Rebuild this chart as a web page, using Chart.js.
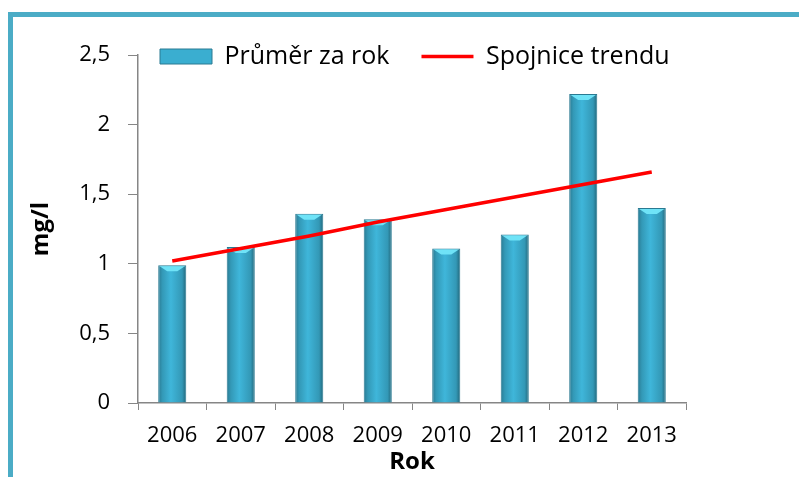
<!DOCTYPE html>
<html>
<head>
<meta charset="utf-8">
<script src="https://cdn.jsdelivr.net/npm/chart.js@4"></script>
<style>
    body { margin: 0; background: #fff; overflow: hidden; }
    #wrap { position: relative; width: 799px; height: 477px; }
    #frame {
        position: absolute; left: 8px; top: 12px; width: 820px; height: 500px;
        border-left: 5px solid #4bacc6; border-top: 5px solid #4bacc6;
    }
    #chart { position: absolute; left: 0; top: 0; }
</style>
</head>
<body>
<div id="wrap">
    <div id="frame"></div>
    <canvas id="chart" width="799" height="477"></canvas>
</div>
<script>
// data
const years = ['2006', '2007', '2008', '2009', '2010', '2011', '2012', '2013'];
const averages = [0.99, 1.12, 1.36, 1.32, 1.11, 1.21, 2.22, 1.40];
const trend = [1.02, 1.11, 1.20, 1.30, 1.39, 1.48, 1.57, 1.66];

const FONT = '"Open Sans", "Liberation Sans", sans-serif';

// glass look on the bars: horizontal gradient + light bevel on top
const barLook = {
    id: 'barLook',
    beforeDatasetDraw(chart, args) {
        if (args.index !== 0) return;
        const ctx = chart.ctx;
        args.meta.data.forEach(el => {
            const x0 = el.x - el.width / 2, x1 = el.x + el.width / 2;
            const g = ctx.createLinearGradient(x0, 0, x1, 0);
            g.addColorStop(0, '#2a7a92');
            g.addColorStop(0.15, '#3399b7');
            g.addColorStop(0.45, '#3fb6da');
            g.addColorStop(0.85, '#3398b6');
            g.addColorStop(1, '#226679');
            // options are shared between bars, give each its own copy
            el.options = Object.assign({}, el.options, { backgroundColor: g });
        });
    },
    afterDatasetDraw(chart, args) {
        if (args.index !== 0) return;
        const ctx = chart.ctx;
        ctx.save();
        args.meta.data.forEach(el => {
            const x0 = el.x - el.width / 2, x1 = el.x + el.width / 2;
            ctx.fillStyle = '#6fe3f7';
            ctx.beginPath();
            ctx.moveTo(x0 + 1.5, el.y + 1);
            ctx.lineTo(x1 - 1.5, el.y + 1);
            ctx.lineTo(x1 - 9, el.y + 6);
            ctx.lineTo(x0 + 9, el.y + 6);
            ctx.closePath();
            ctx.fill();
        });
        ctx.restore();
    }
};

// legend takes no room and is moved inside the plot, level with the top tick
const legendShift = {
    id: 'legendShift',
    beforeLayout(chart) {
        const lg = chart.legend;
        if (lg && !lg._noSpace) {
            const fit = lg.fit.bind(lg);
            lg.fit = function () { fit(); this.height = 0; };
            lg._noSpace = true;
        }
    },
    afterLayout(chart) {
        const lg = chart.legend;
        lg.left = chart.chartArea.left - 10;
        lg.right = lg.left + lg.width;
        lg.top = chart.chartArea.top - 43;
        lg.bottom = lg.top + 60;
    }
};

new Chart(document.getElementById('chart').getContext('2d'), {
    type: 'bar',
    data: {
        labels: years,
        datasets: [{
            label: 'Průměr za rok',
            data: averages,
            backgroundColor: '#3aaed0',
            borderColor: '#2a7a92',
            borderWidth: 1,
            categoryPercentage: 1,
            barPercentage: 0.41,
            order: 1
        }, {
            type: 'line',
            label: 'Spojnice trendu',
            data: trend,
            borderColor: '#ff0000',
            borderWidth: 3.5,
            pointRadius: 0,
            fill: false,
            order: 0
        }]
    },
    options: {
        responsive: false,
        animation: false,
        layout: { padding: { left: 0, right: 113, top: 55, bottom: 0 } },
        plugins: {
            tooltip: { enabled: false },
            legend: {
                position: 'top',
                align: 'start',
                labels: {
                    usePointStyle: true,
                    pointStyleWidth: 52,
                    boxWidth: 52,
                    boxHeight: 15,
                    padding: 32,
                    color: '#000',
                    font: { family: FONT, size: 25 },
                    generateLabels(chart) {
                        return chart.data.datasets.map((ds, i) => i === 0 ? {
                            text: ds.label, datasetIndex: i, pointStyle: 'rect',
                            fillStyle: '#3aaed0', strokeStyle: '#2a7a92', lineWidth: 1, hidden: false
                        } : {
                            text: ds.label, datasetIndex: i, pointStyle: 'line',
                            fillStyle: '#ff0000', strokeStyle: '#ff0000', lineWidth: 3.5, hidden: false
                        });
                    }
                }
            }
        },
        scales: {
            x: {
                grid: { drawOnChartArea: false, offset: true, tickLength: 7, color: '#868686' },
                border: { color: '#868686', width: 1.5 },
                ticks: { color: '#000', padding: 13, font: { family: FONT, size: 22 } },
                title: { display: true, text: 'Rok', color: '#000', padding: { top: 0, bottom: 0 },
                    font: { family: FONT, size: 24, weight: 'bold' } },
                afterFit(scale) { scale.height = 74; }
            },
            y: {
                min: 0, max: 2.5,
                grid: { drawOnChartArea: false, tickLength: 10, color: '#868686' },
                border: { color: '#868686', width: 1.5 },
                ticks: {
                    stepSize: 0.5, color: '#000', padding: 18,
                    font: { family: FONT, size: 22 },
                    callback: v => String(v).replace('.', ',')
                },
                title: { display: true, text: 'mg/l', color: '#000', padding: { top: 27, bottom: 0 },
                    font: { family: FONT, size: 24, weight: 'bold' } },
                afterFit(scale) { scale.width = 138; }
            }
        }
    },
    plugins: [barLook, legendShift]
});
</script>
</body>
</html>
